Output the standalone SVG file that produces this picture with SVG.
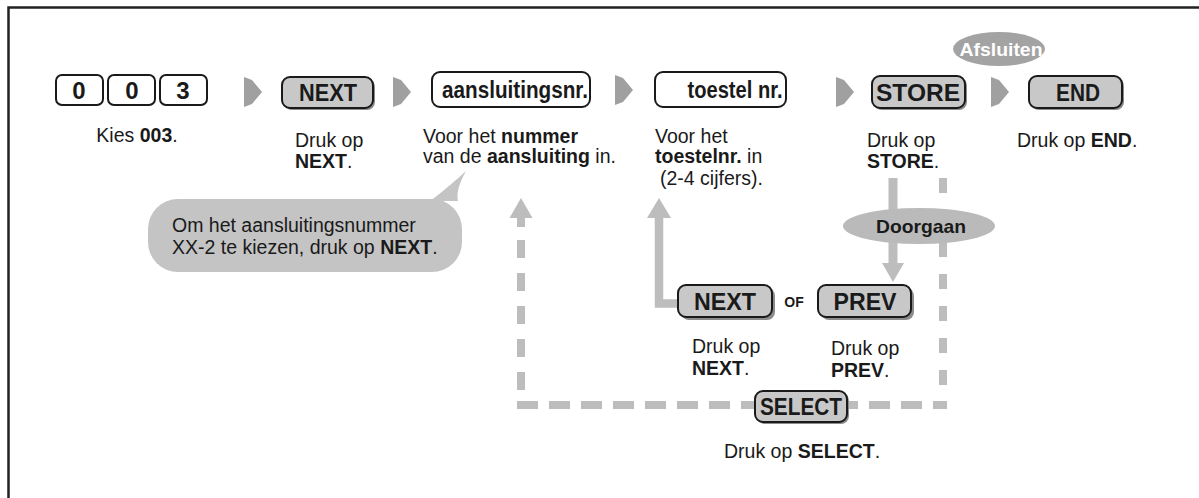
<svg xmlns="http://www.w3.org/2000/svg" width="1199" height="498" viewBox="0 0 1199 498">
<style>
  text { font-family: "Liberation Sans", Arial, sans-serif; fill: #1a1a1a; }
  .t { font-size: 19.5px; }
  .b { font-weight: bold; }
  .key { font-size: 24px; font-weight: bold; text-anchor: middle; }
  .wk { fill: #ffffff; stroke: #1a1a1a; stroke-width: 2; }
  .gk { fill: #c8c8c8; stroke: #1a1a1a; stroke-width: 2; }
  .sh { fill: #8c8c8c; }
  .chev { fill: #a0a0a0; }
  .gray { fill: #bdbdbd; }
  .dash { fill: none; stroke: #bdbdbd; stroke-width: 8; }
</style>
<defs>
  <polygon id="chev" points="0,1 8,4 18,16 8,28 0,31"/>
</defs>

<!-- frame -->
<path d="M8.5,498 V7.5 H1199" fill="none" stroke="#222" stroke-width="2.5"/>

<g id="connectors">
  <use href="#chev" class="chev" x="244" y="76"/>
  <use href="#chev" class="chev" x="393" y="76"/>
  <use href="#chev" class="chev" x="615" y="74"/>
  <use href="#chev" class="chev" x="836" y="76"/>
  <use href="#chev" class="chev" x="991" y="76"/>
  <!-- SELECT loop -->
  <path class="dash" d="M517,405 H947" stroke-dasharray="21 11"/>
  <path class="dash" d="M943,178 V401" stroke-dasharray="15 17"/>
  <path class="dash" d="M521,240 V390" stroke-dasharray="18 15"/>
  <rect class="gray" x="517" y="216" width="8" height="11"/>
  <polygon class="gray" points="509.5,218 532.5,218 521,198"/>
  <!-- STORE -> PREV -->
  <rect class="gray" x="888.5" y="178" width="9" height="87"/>
  <polygon class="gray" points="882,263 904,263 893,282"/>
  <!-- NEXT -> toestel -->
  <path d="M680,303.5 H659 V216" fill="none" stroke="#bdbdbd" stroke-width="8.5"/>
  <polygon class="gray" points="647,218 671,218 659,198"/>
</g>

<g id="key003">
  <rect class="wk" x="56" y="75" width="47" height="30" rx="6"/>
  <rect class="wk" x="108" y="75" width="47" height="30" rx="6"/>
  <rect class="wk" x="160" y="75" width="47" height="30" rx="6"/>
  <text class="key" x="79" y="99">0</text>
  <text class="key" x="132" y="99">0</text>
  <text class="key" x="183" y="99">3</text>
  <text class="t" x="137" y="142" text-anchor="middle">Kies <tspan class="b">003</tspan>.</text>
</g>

<g id="next1">
  <rect class="sh" x="284" y="79" width="91" height="31" rx="8"/>
  <rect class="gk" x="282" y="77" width="91" height="31" rx="8"/>
  <text class="key" x="328" y="101" textLength="58" lengthAdjust="spacingAndGlyphs">NEXT</text>
  <text class="t" x="295" y="147">Druk op</text>
  <text class="t b" x="295" y="168">NEXT<tspan font-weight="normal">.</tspan></text>
</g>

<g id="aansluiting">
  <rect class="wk" x="432" y="72" width="158" height="35" rx="8"/>
  <text class="key" x="515" y="98" textLength="146" lengthAdjust="spacingAndGlyphs">aansluitingsnr.</text>
  <text class="t" x="423" y="143">Voor het <tspan class="b">nummer</tspan></text>
  <text class="t" x="423" y="163">van de <tspan class="b">aansluiting</tspan> in.</text>
</g>

<g id="toestel">
  <rect class="wk" x="655" y="72" width="131" height="35" rx="8"/>
  <text class="key" x="735" y="98" textLength="95" lengthAdjust="spacingAndGlyphs">toestel nr.</text>
  <text class="t" x="655" y="143">Voor het</text>
  <text class="t" x="655" y="163"><tspan class="b">toestelnr.</tspan> in</text>
  <text class="t" x="660" y="185">(2-4 cijfers).</text>
</g>

<g id="store">
  <rect class="sh" x="874" y="78" width="93" height="32" rx="8"/>
  <rect class="gk" x="872" y="76" width="93" height="32" rx="8"/>
  <text class="key" x="918" y="101" textLength="84" lengthAdjust="spacingAndGlyphs">STORE</text>
  <text class="t" x="867" y="147">Druk op</text>
  <text class="t b" x="867" y="168">STORE<tspan font-weight="normal">.</tspan></text>
</g>

<g id="afsluiten">
  <ellipse cx="999" cy="49" rx="46" ry="17" fill="#a3a3a3"/>
  <text x="1001" y="56" font-size="18.5" font-weight="bold" text-anchor="middle" style="fill:#ffffff" textLength="83" lengthAdjust="spacingAndGlyphs">Afsluiten</text>
</g>

<g id="end">
  <rect class="sh" x="1031" y="78" width="93" height="32" rx="8"/>
  <rect class="gk" x="1029" y="76" width="93" height="32" rx="8"/>
  <text class="key" x="1078" y="101" textLength="44" lengthAdjust="spacingAndGlyphs">END</text>
  <text class="t" x="1017" y="147">Druk op <tspan class="b">END</tspan>.</text>
</g>

<g id="bubble">
  <rect x="148" y="199" width="314" height="73" rx="30" fill="#c4c4c4"/>
  <path d="M430,201 C445,190 456,180 466,171 C460,182 456,192 458,201 Z" fill="#c4c4c4"/>
  <text class="t" x="172" y="232">Om het aansluitingsnummer</text>
  <text class="t" x="172" y="254">XX-2 te kiezen, druk op <tspan class="b">NEXT</tspan>.</text>
</g>

<g id="doorgaan">
  <ellipse cx="919" cy="226" rx="76" ry="18" fill="#bababa"/>
  <text x="921" y="233" font-size="18.5" font-weight="bold" text-anchor="middle" textLength="90" lengthAdjust="spacingAndGlyphs">Doorgaan</text>
</g>

<g id="next2">
  <rect class="sh" x="681" y="288" width="94" height="32" rx="8"/>
  <rect class="gk" x="678" y="285" width="94" height="32" rx="8"/>
  <text class="key" x="725" y="310" textLength="62" lengthAdjust="spacingAndGlyphs">NEXT</text>
  <text class="t" x="692" y="353">Druk op</text>
  <text class="t b" x="692" y="375">NEXT<tspan font-weight="normal">.</tspan></text>
</g>

<g id="of">
  <text x="794" y="307" font-size="14" font-weight="bold" text-anchor="middle">OF</text>
</g>

<g id="prev">
  <rect class="sh" x="821" y="288" width="93" height="32" rx="8"/>
  <rect class="gk" x="818" y="285" width="93" height="32" rx="8"/>
  <text class="key" x="865" y="310" textLength="63" lengthAdjust="spacingAndGlyphs">PREV</text>
  <text class="t" x="831" y="355">Druk op</text>
  <text class="t b" x="831" y="377">PREV<tspan font-weight="normal">.</tspan></text>
</g>

<g id="select">
  <rect class="sh" x="757" y="393" width="92" height="31" rx="8"/>
  <rect class="gk" x="755" y="391" width="92" height="31" rx="8"/>
  <text class="key" x="801" y="415" textLength="82" lengthAdjust="spacingAndGlyphs">SELECT</text>
  <text class="t" x="724" y="458">Druk op <tspan class="b">SELECT</tspan>.</text>
</g>
</svg>
